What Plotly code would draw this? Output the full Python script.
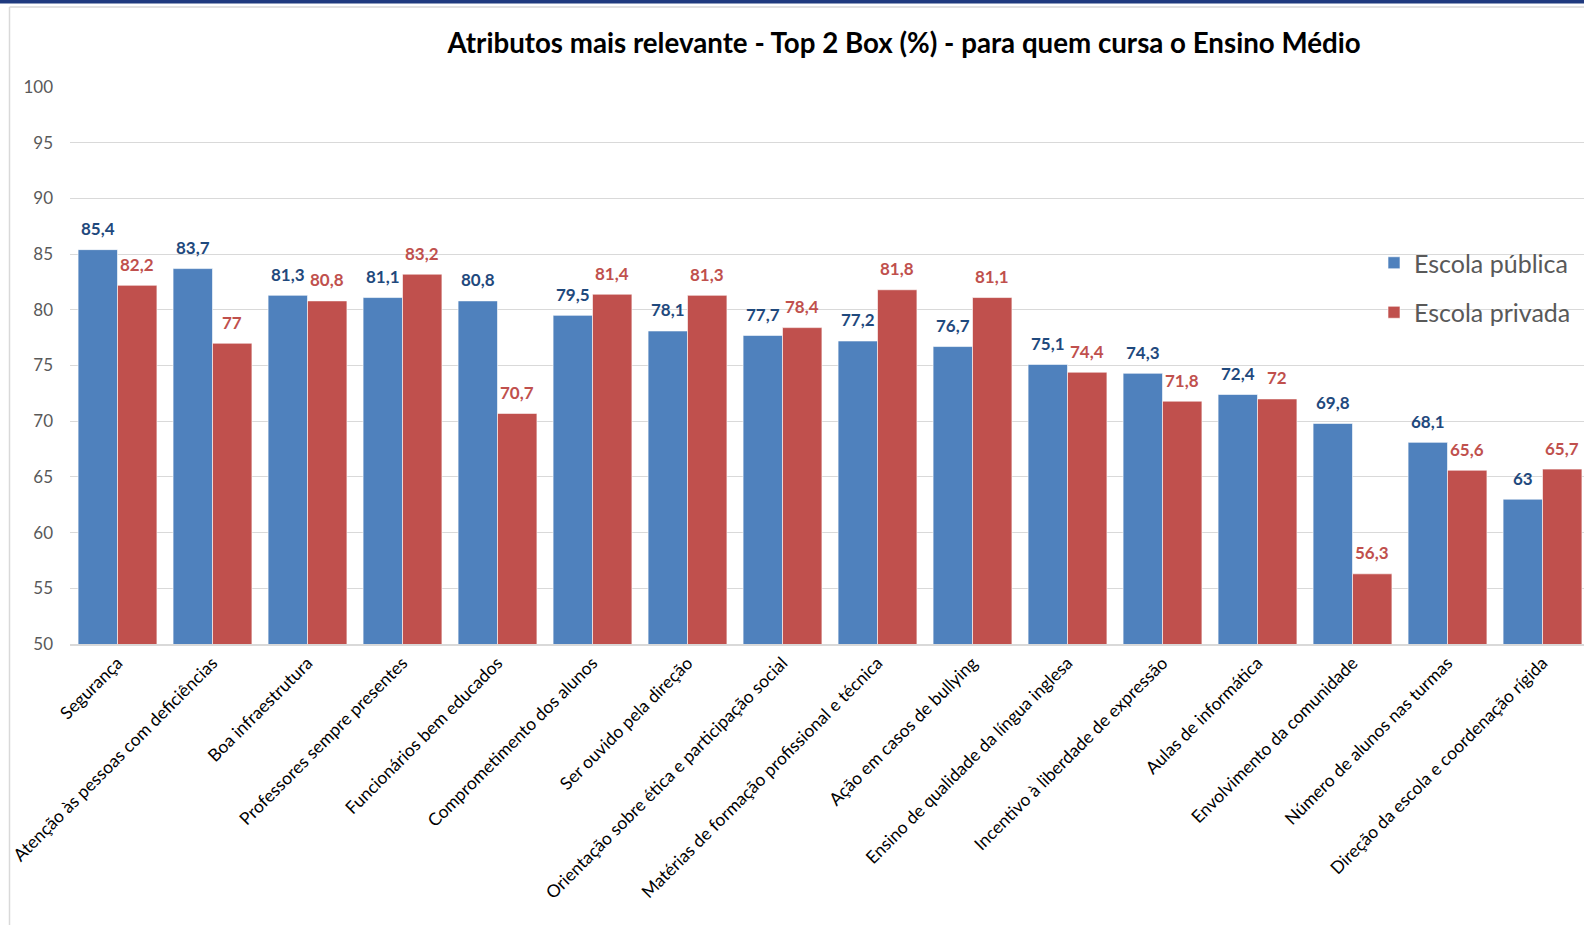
import plotly.graph_objects as go

categories = [
    "Segurança", "Atenção às pessoas com deficiências", "Boa infraestrutura",
    "Professores sempre presentes", "Funcionários bem educados",
    "Comprometimento dos alunos", "Ser ouvido pela direção",
    "Orientação sobre ética e participação social",
    "Matérias de formação profissional e técnica", "Ação em casos de bullying",
    "Ensino de qualidade da língua inglesa", "Incentivo à liberdade de expressão",
    "Aulas de informática", "Envolvimento da comunidade",
    "Número de alunos nas turmas", "Direção da escola e coordenação rígida",
]
publica = [85.4, 83.7, 81.3, 81.1, 80.8, 79.5, 78.1, 77.7, 77.2, 76.7, 75.1, 74.3, 72.4, 69.8, 68.1, 63]
privada = [82.2, 77, 80.8, 83.2, 70.7, 81.4, 81.3, 78.4, 81.8, 81.1, 74.4, 71.8, 72, 56.3, 65.6, 65.7]
y_ticks = [50, 55, 60, 65, 70, 75, 80, 85, 90, 95, 100]


def lab(v):
    return f"{v:g}".replace(".", ",")


W, H = 1584, 925
L, T, B = 70, 87, 281
PW = W - L
PH = H - T - B
cat_px = 95.0
x_max = -0.5 + PW / cat_px
BARGAP = 0.17
half_px = cat_px * (1 - BARGAP) / 4  # center offset of each bar in px

FONT = "Lato"
BLUE, RED = "#4F81BD", "#C0504D"
BLUE_T, RED_T = "#1F497D", "#C0504D"

fig = go.Figure()
fig.add_trace(go.Bar(
    x=categories, y=publica, name="Escola pública", marker_color=BLUE,
    marker_line=dict(color="rgba(255,255,255,0.6)", width=1),
    legendgroup="a",
))
fig.add_trace(go.Bar(
    x=categories, y=privada, name="Escola privada", marker_color=RED,
    marker_line=dict(color="rgba(255,255,255,0.6)", width=1),
    legendgroup="b",
))

annotations = []
for c, v in zip(categories, publica):
    annotations.append(dict(x=c, y=v, xref="x", yref="y", text=f"<b>{lab(v)}</b>", showarrow=False,
                            xshift=-half_px, yshift=21, yanchor="middle",
                            font=dict(family=FONT, size=17, color=BLUE_T)))
for c, v in zip(categories, privada):
    annotations.append(dict(x=c, y=v, xref="x", yref="y", text=f"<b>{lab(v)}</b>", showarrow=False,
                            xshift=half_px, yshift=21, yanchor="middle",
                            font=dict(family=FONT, size=17, color=RED_T)))


def px_x(px):
    return (px - L) / PW


def px_y(py):
    return (H - B - py) / PH


shapes = [
    dict(type="rect", xref="paper", yref="paper", x0=px_x(0), x1=px_x(W), y0=px_y(0), y1=px_y(3.5),
         fillcolor="#1F3A7F", line_width=0, layer="above"),
    dict(type="line", xref="paper", yref="paper", x0=px_x(9.5), x1=px_x(9.5), y0=px_y(7), y1=px_y(H),
         line=dict(color="#d9d9d9", width=1.5)),
    dict(type="line", xref="paper", yref="paper", x0=px_x(9.5), x1=px_x(W), y0=px_y(7), y1=px_y(7),
         line=dict(color="#d9d9d9", width=1.5)),
]

fig.update_layout(
    width=W, height=H,
    margin=dict(l=L, r=0, t=T, b=B, pad=0),
    paper_bgcolor="white", plot_bgcolor="white",
    barmode="group", bargap=BARGAP, bargroupgap=0,
    title=dict(text="<b>Atributos mais relevante - Top 2 Box (%) - para quem cursa o Ensino Médio</b>",
               font=dict(family=FONT, size=27.7, color="black"),
               x=904 / W, xanchor="center", y=1 - 43 / H, yanchor="middle"),
    font=dict(family=FONT),
    showlegend=True,
    legend=dict(x=px_x(1374), y=px_y(240), xanchor="left", yanchor="top",
                font=dict(family=FONT, size=25, color="#595959"),
                bgcolor="rgba(0,0,0,0)", tracegroupgap=14, traceorder="grouped",
                itemwidth=30),
    shapes=shapes,
    annotations=annotations,
)
fig.update_yaxes(range=[50, 100], tickvals=y_ticks, showgrid=True, gridcolor="#d9d9d9", gridwidth=1,
                 zeroline=False, showline=False, ticks="",
                 tickfont=dict(family=FONT, size=17, color="#595959"), ticklabelstandoff=16)
fig.update_xaxes(range=[-0.5, x_max], showline=True, linecolor="#d9d9d9", linewidth=2,
                 tickangle=-45, ticks="", tickfont=dict(family=FONT, size=17.5, color="black"))

fig.write_html("out.html", config={"displayModeBar": False},
               post_script="document.body.style.margin='0';document.body.style.padding='0';")
